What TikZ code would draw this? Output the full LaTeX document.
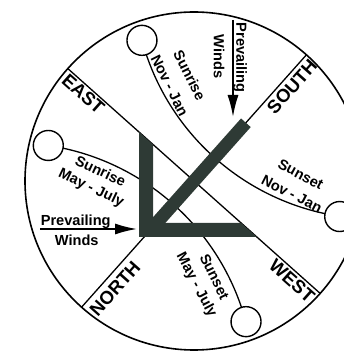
\documentclass[tikz,border=0pt]{standalone}
\usepackage{fontspec}
\setmainfont{Liberation Sans}
\usetikzlibrary{arrows.meta}
\definecolor{barc}{RGB}{46,58,53}
\begin{document}
\begin{tikzpicture}[x=1pt,y=1pt,
  lbl/.style={font=\bfseries\fontsize{14.6}{17}\selectfont, inner sep=0pt},
  card/.style={font=\bfseries\fontsize{18.5}{20}\selectfont, inner sep=0pt},
  thinline/.style={line width=1.3pt},
  sun/.style={circle, draw, line width=1.4pt, fill=white, minimum size=30pt, inner sep=0pt},
  wind/.style={line width=1.8pt, -{Latex[length=22pt,width=11pt]}},
  bar/.style={fill=barc, draw=none}]
\useasboundingbox (0,0) rectangle (344,354);
\clip (0,0) rectangle (344,354);
\coordinate (C) at (194,173);
\begin{scope}[shift={(C)}, rotate=48.3]
  \coordinate (E) at (0,169);
  \coordinate (W) at (0,-169);
  \coordinate (S) at (169,0);
  \coordinate (N) at (-169,0);
  \coordinate (srNJ) at (62:150);
  \coordinate (ssNJ) at (-62:150);
  \coordinate (srMJ) at (118:150);
  \coordinate (ssMJ) at (-118:150);
  \coordinate (dA) at (-68,0);
  \coordinate (dB) at (78,0);
  \draw[thinline] (E) -- (W);
  \draw[thinline] (S) -- (N);
  \draw[thinline] (srNJ) arc[start angle=146.9, end angle=213.1, radius=242.2];
  \draw[thinline] (srMJ) arc[start angle=33.1, end angle=-33.1, radius=242.2];
  \node[sun] (c1) at (srNJ) {};
  \node[sun] (c2) at (ssNJ) {};
  \node[sun] (c3) at (srMJ) {};
  \node[sun] (c4) at (ssMJ) {};
\end{scope}
\draw[line width=1.6pt] (C) circle (169);
% L shape
\fill[bar] (139,222) -- (153,209.5) -- (153,131) -- (241.1,131) -- (256.9,117) -- (139,117) -- cycle;
\draw[barc, line width=13pt] (dA) -- (dB);
% wind arrows
\coordinate (wl0) at (40,125);
\coordinate (wl1) at (137,125);
\coordinate (wt0) at (233,334);
\coordinate (wt1) at (233,237);
\draw[wind] (wl0) -- (wl1);
\draw[wind] (wt0) -- (wt1);
% labels
\node[card, rotate=-41.7] (east) at (83.3,260) {EAST};
\node[card, rotate=48.3] (south) at (292,267.3) {SOUTH};
\node[card, rotate=-41.7] (west) at (292,73) {WEST};
\node[card, rotate=48.3] (north) at (115,65.3) {NORTH};
\node[lbl, rotate=-63.4] (t1) at (189.6,279) {Sunrise};
\node[lbl, rotate=-63.4] (t2) at (169.5,268.3) {Nov - Jan};
\node[lbl, rotate=-90] (t3) at (240,296.5) {Prevailing};
\node[lbl, rotate=-90] (t4) at (219,297.5) {Winds};
\node[lbl, rotate=-28] (t5) at (300.7,179.6) {Sunset};
\node[lbl, rotate=-27] (t6) at (291.8,160.2) {Nov - Jan};
\node[lbl, rotate=-25] (t7) at (100.6,183.1) {Sunrise};
\node[lbl, rotate=-25.5] (t8) at (91.1,165.9) {May - July};
\node[lbl] (t9) at (75.7,132.5) {Prevailing};
\node[lbl] (t10) at (76.7,114.2) {Winds};
\node[lbl, rotate=-64] (t11) at (214.6,77.2) {Sunset};
\node[lbl, rotate=-62] (t12) at (196.2,69.1) {May - July};
\end{tikzpicture}
\end{document}
